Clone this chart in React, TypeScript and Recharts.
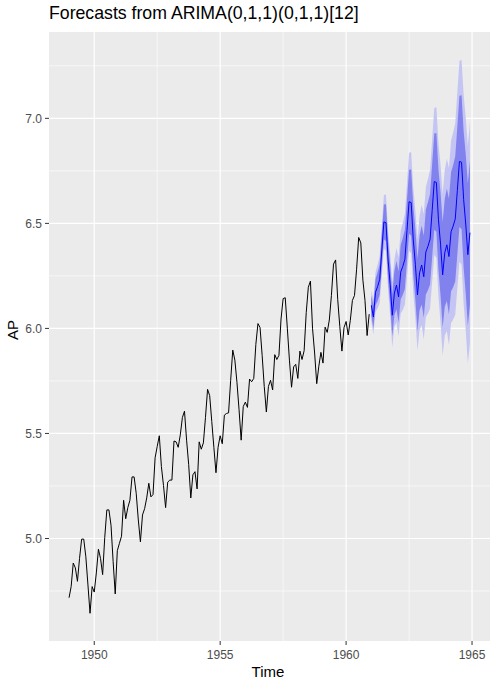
// App.tsx
// ARIMA forecast plot (log AirPassengers) in a ggplot-like style using Recharts.
import {
    ComposedChart, Line, Area, XAxis, YAxis, CartesianGrid
} from 'recharts'

// observed series, 1949-01 .. 1960-12 (log scale values)
const observed = [
    4.718, 4.771, 4.883, 4.860, 4.796, 4.905, 4.997, 4.997, 4.913, 4.779, 4.644, 4.771,
    4.745, 4.836, 4.949, 4.905, 4.828, 5.004, 5.136, 5.136, 5.063, 4.890, 4.736, 4.942,
    4.977, 5.011, 5.182, 5.094, 5.147, 5.182, 5.293, 5.293, 5.215, 5.088, 4.984, 5.112,
    5.142, 5.193, 5.263, 5.198, 5.209, 5.384, 5.438, 5.489, 5.342, 5.252, 5.147, 5.268,
    5.278, 5.278, 5.464, 5.460, 5.434, 5.493, 5.576, 5.606, 5.468, 5.352, 5.193, 5.303,
    5.318, 5.236, 5.460, 5.425, 5.455, 5.576, 5.710, 5.680, 5.557, 5.434, 5.313, 5.434,
    5.489, 5.451, 5.587, 5.595, 5.598, 5.753, 5.897, 5.849, 5.743, 5.613, 5.468, 5.628,
    5.649, 5.624, 5.759, 5.746, 5.762, 5.924, 6.023, 6.004, 5.872, 5.724, 5.602, 5.724,
    5.753, 5.707, 5.875, 5.852, 5.872, 6.045, 6.142, 6.146, 6.001, 5.849, 5.720, 5.817,
    5.829, 5.762, 5.892, 5.852, 5.894, 6.075, 6.196, 6.225, 6.001, 5.883, 5.737, 5.820,
    5.886, 5.835, 6.006, 5.981, 6.040, 6.157, 6.306, 6.326, 6.138, 6.009, 5.892, 6.004,
    6.033, 5.969, 6.038, 6.133, 6.157, 6.282, 6.433, 6.407, 6.230, 6.133, 5.966, 6.068,
]

// forecasts, 1961-01 .. 1964-12
const fcMean = [
    6.110, 6.054, 6.172, 6.199, 6.233, 6.369, 6.507, 6.503, 6.325, 6.209, 6.063, 6.168,
    6.206, 6.150, 6.268, 6.295, 6.329, 6.465, 6.603, 6.599, 6.421, 6.305, 6.159, 6.264,
    6.302, 6.246, 6.364, 6.391, 6.425, 6.561, 6.699, 6.695, 6.517, 6.401, 6.255, 6.360,
    6.398, 6.342, 6.460, 6.487, 6.521, 6.657, 6.795, 6.791, 6.613, 6.497, 6.351, 6.456,
]
const lo80 = [
    6.063, 5.999, 6.110, 6.131, 6.160, 6.290, 6.424, 6.415, 6.232, 6.112, 5.962, 6.063,
    6.091, 6.028, 6.139, 6.160, 6.188, 6.318, 6.451, 6.441, 6.258, 6.137, 5.986, 6.087,
    6.114, 6.051, 6.162, 6.182, 6.209, 6.339, 6.470, 6.460, 6.277, 6.155, 6.003, 6.103,
    6.130, 6.066, 6.177, 6.196, 6.223, 6.352, 6.483, 6.472, 6.287, 6.165, 6.012, 6.111,
]
const hi80 = [
    6.157, 6.109, 6.234, 6.267, 6.306, 6.448, 6.590, 6.591, 6.418, 6.306, 6.164, 6.273,
    6.321, 6.272, 6.397, 6.430, 6.470, 6.612, 6.755, 6.757, 6.584, 6.473, 6.332, 6.441,
    6.490, 6.441, 6.566, 6.600, 6.641, 6.783, 6.928, 6.930, 6.757, 6.647, 6.507, 6.617,
    6.666, 6.618, 6.743, 6.778, 6.819, 6.962, 7.107, 7.110, 6.939, 6.829, 6.690, 6.801,
]
const lo95 = [
    6.038, 5.970, 6.078, 6.095, 6.121, 6.249, 6.379, 6.368, 6.183, 6.061, 5.909, 6.008,
    6.029, 5.963, 6.071, 6.088, 6.113, 6.240, 6.370, 6.358, 6.172, 6.048, 5.895, 5.993,
    6.015, 5.947, 6.055, 6.071, 6.095, 6.221, 6.350, 6.336, 6.149, 6.024, 5.870, 5.966,
    5.988, 5.920, 6.026, 6.042, 6.065, 6.190, 6.317, 6.303, 6.115, 5.989, 5.833, 5.928,
]
const hi95 = [
    6.182, 6.138, 6.266, 6.303, 6.345, 6.489, 6.635, 6.638, 6.467, 6.357, 6.217, 6.328,
    6.383, 6.337, 6.465, 6.502, 6.545, 6.690, 6.836, 6.840, 6.670, 6.562, 6.423, 6.535,
    6.589, 6.545, 6.673, 6.711, 6.755, 6.901, 7.048, 7.054, 6.885, 6.778, 6.640, 6.754,
    6.808, 6.764, 6.894, 6.932, 6.977, 7.124, 7.273, 7.279, 7.111, 7.005, 6.869, 6.984,
]

const xTicks = [1950, 1955, 1960, 1965]
const yTicks = [5.0, 5.5, 6.0, 6.5, 7.0]
const xMinor = [1952.5, 1957.5, 1962.5]
const yMinor = [4.75, 5.25, 5.75, 6.25, 6.75, 7.25]

const histData = observed.map((v, i) => ({ t: 1949 + i / 12, ap: v }))
const fcData = fcMean.map((v, i) => ({
    t: 1961 + i / 12,
    mean: v,
    r80: [lo80[i], hi80[i]],
    r95: [lo95[i], hi95[i]],
}))

const FONT = '"Liberation Sans", Arial, sans-serif'

export default function App() {
    return (
        <div style={{ position: 'absolute', left: 0, top: 0, width: 497, height: 686, background: '#fff', fontFamily: FONT }}>
            <div style={{ position: 'absolute', left: 49, top: 3, fontSize: 17.7, color: '#000', whiteSpace: 'nowrap' }}>
                Forecasts from ARIMA(0,1,1)(0,1,1)[12]
            </div>
            <ComposedChart
                width={497}
                height={686}
                margin={{ top: 32, right: 7, bottom: 0, left: 0 }}
            >
                <CartesianGrid
                    fill="#EBEBEB"
                    stroke="#FFFFFF"
                    strokeWidth={0.6}
                    horizontalValues={yMinor}
                    verticalValues={xMinor}
                />
                <CartesianGrid
                    stroke="#FFFFFF"
                    strokeWidth={1.2}
                    horizontalValues={yTicks}
                    verticalValues={xTicks}
                />
                <XAxis
                    type="number"
                    dataKey="t"
                    domain={[1948.204, 1965.713]}
                    ticks={xTicks}
                    allowDataOverflow
                    height={45}
                    axisLine={false}
                    tickSize={4}
                    tickMargin={5}
                    tickLine={{ stroke: '#333333' }}
                    tick={{ fontSize: 12, fill: '#4D4D4D', fontFamily: FONT }}
                />
                <YAxis
                    type="number"
                    domain={[4.512, 7.411]}
                    ticks={yTicks}
                    allowDataOverflow
                    width={49}
                    axisLine={false}
                    tickSize={4}
                    tickMargin={3}
                    tickLine={{ stroke: '#333333' }}
                    tickFormatter={v => v.toFixed(1)}
                    tick={{ fontSize: 12, fill: '#4D4D4D', fontFamily: FONT }}
                />
                <Area
                    data={fcData}
                    dataKey="r95"
                    type="linear"
                    stroke="none"
                    fill="#C5C5F4"
                    fillOpacity={1}
                    isAnimationActive={false}
                />
                <Area
                    data={fcData}
                    dataKey="r80"
                    type="linear"
                    stroke="none"
                    fill="#8282EE"
                    fillOpacity={1}
                    isAnimationActive={false}
                />
                <Line
                    data={histData}
                    dataKey="ap"
                    type="linear"
                    stroke="#000000"
                    strokeWidth={1}
                    dot={false}
                    isAnimationActive={false}
                />
                <Line
                    data={fcData}
                    dataKey="mean"
                    type="linear"
                    stroke="#0000FF"
                    strokeWidth={1}
                    dot={false}
                    isAnimationActive={false}
                />
            </ComposedChart>
            <div style={{ position: 'absolute', left: 268, top: 663, fontSize: 15, color: '#000', transform: 'translateX(-50%)', whiteSpace: 'nowrap' }}>
                Time
            </div>
            <div style={{ position: 'absolute', left: 12, top: 330, fontSize: 15, color: '#000', transform: 'translate(-50%, -50%) rotate(-90deg)', whiteSpace: 'nowrap' }}>
                AP
            </div>
        </div>
    )
}
